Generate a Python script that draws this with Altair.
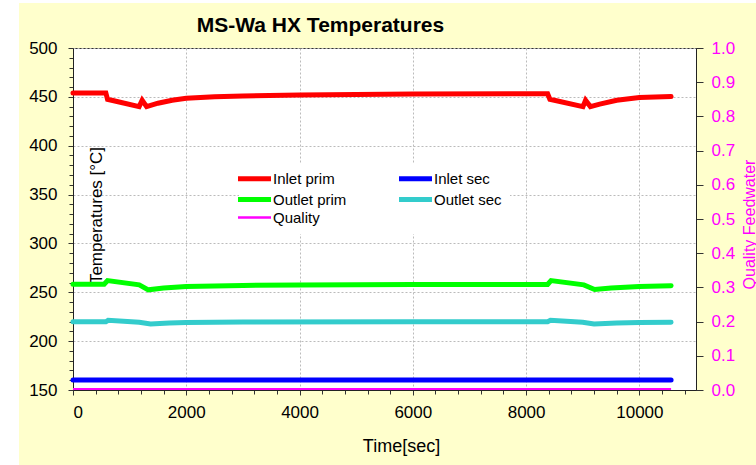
import altair as alt
import pandas as pd

# Time axis in seconds, temperatures in deg C, quality as a fraction
inlet_prim_t = [0, 580, 610, 1168, 1221, 1300, 1500, 1750, 2000, 2500, 3000, 4000, 6000,
                8380, 8420, 9004, 9050, 9135, 9300, 9600, 10000, 10560]
inlet_prim_v = [454, 454, 447.5, 440, 446.5, 440, 443.5, 446.5, 448.5, 450, 451, 452, 452.8,
                453.2, 447.5, 440, 446.5, 440, 442.5, 446.5, 449.3, 450.3]

outlet_prim_t = [0, 550, 610, 1170, 1330, 1600, 2000, 3000, 4000, 6000,
                 8380, 8440, 9020, 9210, 9500, 10000, 10560]
outlet_prim_v = [258.2, 258.2, 262, 257.6, 252.5, 254.3, 255.8, 257, 257.5, 258,
                 258, 262, 257.6, 252.8, 254.5, 256, 256.8]

inlet_sec_t = [0, 10560]
inlet_sec_v = [160.2, 160.2]

outlet_sec_t = [0, 580, 620, 1170, 1370, 1700, 2000, 3000, 6000,
                8380, 8430, 9000, 9200, 9600, 10000, 10560]
outlet_sec_v = [219.8, 219.8, 221.3, 219.3, 217.5, 218.5, 219.2, 219.5, 219.8,
                219.8, 221.3, 219.3, 217.5, 218.6, 219.2, 219.3]

quality_t = [0, 10560]
quality_v = [0.003, 0.003]

series_order = ["Inlet prim", "Inlet sec", "Outlet prim", "Outlet sec", "Quality"]
series_colors = ["#FF0000", "#0000FF", "#00FF00", "#33CCCC", "#FF00FF"]

x_ticks = list(range(0, 11000, 400))
y_ticks = list(range(150, 501, 10))
q_ticks = [0.0, 0.1, 0.2, 0.3, 0.4, 0.5, 0.6, 0.7, 0.8, 0.9, 1.0]

FONT = "Liberation Sans"

rows = []
for name, ts, vs in [("Inlet prim", inlet_prim_t, inlet_prim_v),
                     ("Inlet sec", inlet_sec_t, inlet_sec_v),
                     ("Outlet prim", outlet_prim_t, outlet_prim_v),
                     ("Outlet sec", outlet_sec_t, outlet_sec_v)]:
    for t, v in zip(ts, vs):
        rows.append({"time": t, "value": v, "series": name})
temps = pd.DataFrame(rows)
quality = pd.DataFrame({"time": quality_t, "value": quality_v, "series": "Quality"})

color = alt.Color(
    "series:N",
    scale=alt.Scale(domain=series_order, range=series_colors),
    legend=alt.Legend(
        title=None, orient="none", legendX=166, legendY=115, columns=2,
        direction="horizontal", columnPadding=42, rowPadding=0, padding=8,
        fillColor="white", symbolType="M-3,0H3", symbolSize=121,
        symbolStrokeWidth=alt.expr("datum.value === 'Quality' ? 2.5 : 5"),
        labelFont=FONT, labelFontSize=15, labelColor="black", labelOffset=11,
    ),
)

x_enc = alt.X(
    "time:Q",
    scale=alt.Scale(domain=[0, 11000], nice=False, zero=False),
    axis=alt.Axis(
        values=x_ticks, format="d",
        labelExpr="datum.value % 2000 === 0 ? datum.label : ''",
        gridOpacity={"condition": {"test": "datum.value % 2000 === 0", "value": 1}, "value": 0},
        tickSize={"condition": {"test": "datum.value % 2000 === 0", "value": 5}, "value": 4},
        labelPadding=9, title="Time[sec]", titleX=328, titleY=61,
        titleAlign="center", titleBaseline="alphabetic", titleFontSize=18,
    ),
)

temp_lines = alt.Chart(temps).mark_line(strokeWidth=5, strokeCap="round").encode(
    x=x_enc,
    y=alt.Y(
        "value:Q",
        scale=alt.Scale(domain=[150, 500], nice=False, zero=False),
        axis=alt.Axis(
            orient="left", values=y_ticks,
            labelExpr="datum.value % 50 === 0 ? datum.label : ''",
            gridOpacity={"condition": {"test": "datum.value % 50 === 0", "value": 1}, "value": 0},
            tickSize={"condition": {"test": "datum.value % 50 === 0", "value": 5}, "value": 4},
            labelPadding=11, title="Temperatures [°C]", titleX=28, titleY=167,
            titleAngle=-90, titleAlign="center", titleBaseline="alphabetic",
            titleFontSize=17,
        ),
    ),
    color=color,
)

quality_line = alt.Chart(quality).mark_line(strokeWidth=2).encode(
    x=x_enc,
    y=alt.Y(
        "value:Q",
        scale=alt.Scale(domain=[0, 1], nice=False),
        axis=alt.Axis(
            orient="right", values=q_ticks, format=".1f", grid=False,
            tickSize=7, labelPadding=8, labelColor="#FF00FF",
            title="Quality Feedwater", titleColor="#FF00FF", titleFontSize=16,
            titleAngle=-90, titleX=58, titleY=176, titleAlign="center",
            titleBaseline="alphabetic",
        ),
    ),
    color=color,
)

# white margin strips round the yellow panel
frame = pd.DataFrame({"k": [0]})
strip_left = alt.Chart(frame).mark_rect(color="white").encode(
    x=alt.value(-73), x2=alt.value(-54), y=alt.value(-48), y2=alt.value(417))
strip_top = alt.Chart(frame).mark_rect(color="white").encode(
    x=alt.value(-73), x2=alt.value(683), y=alt.value(-48), y2=alt.value(-45))

chart = alt.layer(strip_left, strip_top, temp_lines, quality_line).resolve_scale(
    y="independent"
).properties(
    width=623, height=342,
    autosize=alt.AutoSizeParams(type="none"),
    padding={"left": 73, "top": 48, "right": 60, "bottom": 75},
    title=alt.TitleParams(
        "MS-Wa HX Temperatures", font=FONT, fontSize=21, fontWeight="bold",
        color="black", anchor="middle", frame="group", baseline="bottom",
        offset=0, dx=-64, dy=57,
    ),
).configure(
    background="#FFFFCC",
).configure_view(
    fill="white", stroke="#333333", strokeWidth=1,
).configure_axis(
    labelFont=FONT, labelFontSize=17, labelColor="black",
    titleFont=FONT, titleFontWeight="normal", titleColor="black",
    domainColor="#222222", tickColor="#333333",
    gridColor="#BBBBBB", gridDash=[2, 2], gridWidth=1,
)

chart.save("out.html", embed_options={"renderer": "svg", "actions": False})
